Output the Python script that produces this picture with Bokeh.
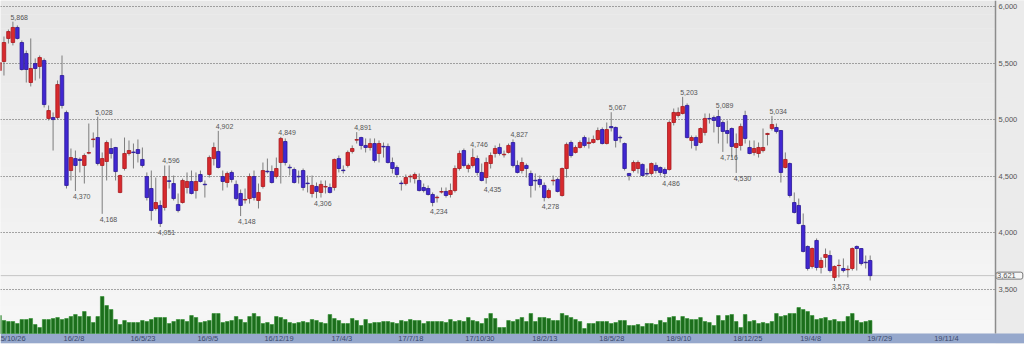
from bokeh.plotting import figure
from bokeh.models import Range1d, FixedTicker, Label, BoxAnnotation, ColumnDataSource
from bokeh.core.properties import value
from bokeh.embed import file_html
from bokeh.resources import INLINE

# Weekly bars, first week 2015/10/26; a date tick every 15 weeks
week_ticks = ["15/10/26", "16/2/8", "16/5/23", "16/9/5", "16/12/19", "17/4/3", "17/7/18",
              "17/10/30", "18/2/13", "18/5/28", "18/9/10", "18/12/25", "19/4/8", "19/7/29",
              "19/11/4"]
TICK_STEP = 15

opens = [5436, 5516, 5720, 5684, 5817, 5684, 5587, 5330, 5498, 5472, 5525, 5012, 5020, 5020, 5392,
         5065, 4551, 4657, 4650, 4596, 4705, 4825, 4843, 4596, 4631, 4746, 4755, 4357, 4569, 4702,
         4715, 4737, 4649, 4498, 4392, 4215, 4242, 4224, 4460, 4436, 4250, 4268, 4401, 4454, 4374,
         4516, 4430, 4516, 4657, 4720, 4498, 4445, 4534, 4428, 4348, 4290, 4303, 4498, 4286, 4410,
         4545, 4542, 4498, 4622, 4808, 4580, 4560, 4500, 4551, 4440, 4348, 4410, 4357, 4405, 4401,
         4401, 4657, 4555, 4596, 4720, 4820, 4843, 4773, 4755, 4790, 4702, 4765, 4764, 4622, 4578,
         4440, 4436, 4495, 4480, 4463, 4401, 4392, 4339, 4310, 4360, 4366, 4339, 4374, 4569, 4728,
         4569, 4596, 4657, 4534, 4489, 4613, 4702, 4755, 4690, 4711, 4799, 4596, 4551, 4596, 4525,
         4465, 4472, 4419, 4312, 4460, 4472, 4330, 4569, 4799, 4711, 4755, 4843, 4790, 4799, 4826,
         4914, 4790, 4940, 4932, 4845, 4790, 4525, 4551, 4569, 4605, 4525, 4525, 4596, 4578, 4560,
         4560, 4976, 5038, 5056, 5127, 4817, 4843, 4799, 4888, 5012, 5020, 5029, 4976, 4905, 4923,
         4755, 4773, 5038, 4755, 4711, 4702, 4728, 4870, 4923, 4932, 4905, 4578, 4613, 4268, 4242,
         4065, 3879, 3702, 3932, 3693, 3782, 3799, 3605, 3710, 3684, 3673, 3684, 3879, 3861, 3740,
         3755]
highs = [5543, 5737, 5799, 5868, 5835, 5702, 5613, 5720, 5543, 5569, 5543, 5127, 5065, 5348, 5569,
         5082, 4746, 4728, 4666, 4702, 4967, 4888, 5028, 4711, 4817, 4835, 4760, 4515, 4843, 4817,
         4790, 4826, 4755, 4534, 4551, 4489, 4286, 4596, 4596, 4507, 4348, 4480, 4534, 4551, 4534,
         4551, 4463, 4684, 4799, 4902, 4551, 4542, 4551, 4463, 4383, 4392, 4525, 4551, 4436, 4622,
         4657, 4596, 4666, 4849, 4835, 4605, 4578, 4551, 4569, 4507, 4507, 4445, 4463, 4463, 4436,
         4657, 4684, 4596, 4728, 4773, 4891, 4850, 4835, 4835, 4835, 4817, 4799, 4790, 4666, 4596,
         4463, 4516, 4516, 4534, 4525, 4436, 4419, 4357, 4330, 4401, 4401, 4436, 4596, 4728, 4746,
         4613, 4746, 4684, 4613, 4666, 4711, 4773, 4790, 4728, 4790, 4827, 4640, 4666, 4613, 4551,
         4525, 4507, 4445, 4392, 4507, 4489, 4578, 4799, 4817, 4773, 4817, 4861, 4843, 4861, 4932,
         4932, 4976, 5067, 4940, 4861, 4799, 4530, 4640, 4640, 4613, 4569, 4622, 4622, 4587, 4578,
         4994, 5100, 5109, 5203, 5145, 4861, 4861, 4932, 5056, 5056, 5038, 5089, 4994, 4994, 4932,
         4879, 4967, 5080, 4817, 4817, 4799, 4923, 4885, 5034, 4967, 4910, 4711, 4622, 4357, 4303,
         4171, 3888, 3870, 3950, 3782, 3861, 3843, 3711, 3764, 3773, 3711, 3870, 3888, 3865, 3799,
         3799]
lows = [5392, 5392, 5675, 5658, 5711, 5436, 5330, 5295, 5348, 5365, 5109, 4994, 4728, 5002, 5100,
        4392, 4463, 4370, 4534, 4436, 4695, 4755, 4596, 4168, 4463, 4657, 4463, 4350, 4551, 4684,
        4569, 4622, 4578, 4286, 4109, 4197, 4051, 4197, 4392, 4286, 4180, 4259, 4348, 4340, 4303,
        4445, 4312, 4489, 4596, 4569, 4374, 4401, 4445, 4286, 4148, 4259, 4259, 4286, 4215, 4392,
        4525, 4436, 4480, 4436, 4596, 4507, 4436, 4436, 4374, 4357, 4312, 4306, 4312, 4348, 4348,
        4374, 4534, 4525, 4578, 4702, 4790, 4737, 4711, 4728, 4622, 4622, 4666, 4613, 4525, 4489,
        4374, 4419, 4445, 4436, 4366, 4357, 4330, 4234, 4268, 4348, 4312, 4312, 4357, 4551, 4578,
        4534, 4578, 4507, 4455, 4435, 4569, 4666, 4684, 4666, 4702, 4578, 4525, 4525, 4489, 4312,
        4374, 4401, 4278, 4303, 4419, 4357, 4320, 4489, 4666, 4702, 4746, 4755, 4746, 4790, 4817,
        4782, 4782, 4897, 4755, 4799, 4551, 4463, 4534, 4525, 4498, 4498, 4507, 4525, 4507, 4486,
        4551, 4950, 5020, 5047, 4835, 4746, 4728, 4790, 4861, 4967, 4888, 4790, 4716, 4790, 4666,
        4530, 4728, 4790, 4695, 4684, 4666, 4711, 4773, 4905, 4879, 4445, 4569, 4312, 4171, 4075,
        3826, 3666, 3684, 3666, 3640, 3693, 3649, 3573, 3605, 3649, 3605, 3666, 3666, 3711, 3684,
        3578]
closes = [5507, 5684, 5781, 5817, 5720, 5445, 5445, 5454, 5454, 5551, 5135, 5082, 5002, 5312, 5127,
          4419, 4666, 4596, 4640, 4684, 4710, 4830, 4613, 4657, 4799, 4702, 4542, 4507, 4702, 4728,
          4710, 4702, 4596, 4312, 4197, 4268, 4082, 4498, 4455, 4303, 4197, 4463, 4454, 4348, 4454,
          4454, 4425, 4666, 4755, 4578, 4454, 4525, 4472, 4303, 4242, 4295, 4498, 4312, 4357, 4551,
          4540, 4445, 4569, 4835, 4622, 4575, 4445, 4495, 4401, 4435, 4419, 4366, 4428, 4410, 4357,
          4649, 4569, 4550, 4711, 4746, 4825, 4773, 4755, 4790, 4640, 4790, 4760, 4622, 4569, 4516,
          4435, 4489, 4500, 4516, 4374, 4374, 4339, 4268, 4315, 4365, 4330, 4374, 4569, 4702, 4596,
          4596, 4666, 4534, 4463, 4622, 4684, 4746, 4702, 4695, 4773, 4596, 4534, 4622, 4569, 4419,
          4460, 4428, 4312, 4374, 4465, 4366, 4569, 4782, 4684, 4755, 4799, 4773, 4800, 4826, 4905,
          4790, 4914, 4930, 4817, 4840, 4569, 4507, 4622, 4622, 4507, 4520, 4613, 4551, 4534, 4525,
          4976, 5065, 5065, 5118, 4843, 4843, 4773, 4923, 5012, 5008, 4994, 4941, 4897, 4879, 4764,
          4790, 4941, 4835, 4702, 4746, 4755, 4755, 4879, 4958, 4897, 4534, 4649, 4330, 4180, 4082,
          3835, 3684, 3861, 3693, 3755, 3808, 3666, 3702, 3712, 3666, 3677, 3861, 3861, 3728, 3735,
          3621]
# Weekly volume (arbitrary units)
volumes = [180, 130, 120, 120, 100, 140, 140, 150, 90, 60, 140, 140, 150, 160, 140, 150, 170, 190,
           170, 220, 170, 110, 170, 370, 280, 240, 140, 90, 130, 110, 110, 110, 130, 120, 140, 160,
           160, 160, 100, 120, 140, 140, 120, 180, 160, 110, 120, 130, 200, 200, 110, 120, 130, 170,
           140, 110, 170, 200, 170, 100, 110, 90, 170, 160, 140, 110, 100, 110, 120, 110, 140, 130,
           110, 100, 190, 150, 130, 100, 100, 150, 130, 80, 140, 100, 110, 110, 120, 120, 110, 100,
           130, 120, 140, 130, 130, 100, 120, 120, 120, 120, 110, 140, 120, 130, 120, 160, 130, 120,
           100, 150, 200, 150, 60, 60, 130, 120, 140, 160, 120, 200, 120, 160, 160, 150, 130, 130,
           200, 180, 160, 140, 120, 50, 100, 100, 120, 120, 120, 100, 110, 130, 130, 80, 80, 90, 70,
           100, 100, 90, 130, 110, 160, 170, 130, 170, 150, 140, 140, 160, 120, 110, 80, 180, 130,
           180, 190, 120, 60, 190, 120, 130, 100, 110, 100, 120, 200, 170, 180, 200, 200, 260, 240,
           220, 180, 140, 150, 160, 130, 140, 120, 120, 170, 200, 130, 110, 120, 130]

price_ticks = [3500, 4000, 4500, 5000, 5500, 6000]
high_marks = [3, 22, 37, 49, 63, 80, 106, 115, 137, 153, 161, 173]
low_marks = [17, 23, 36, 54, 71, 97, 109, 122, 149, 162, 165, 187]

UP, DOWN = "#d82a2e", "#4127d2"
UP_EDGE, DOWN_EDGE = "#a8181d", "#2a1896"
FONT = value("Liberation Sans")

n = len(opens)
weeks = list(range(n))
rising = [c >= o for o, c in zip(opens, closes)]
candles = ColumnDataSource(dict(
    x=weeks, o=opens, h=highs, l=lows, c=closes, v=volumes,
    top=[max(o, c) for o, c in zip(opens, closes)],
    bottom=[min(o, c) for o, c in zip(opens, closes)],
    fill=[UP if r else DOWN for r in rising],
    edge=[UP_EDGE if r else DOWN_EDGE for r in rising],
))

# pixel geometry: 6,000 sits 6.3px below the top, 113px per 1,000
PX_PER_UNIT = 113.0 / 1000.0
FRAME_H = 343
BAND_TOP = 333
y_top = 6000 + 6.3 / PX_PER_UNIT
y_bottom = y_top - FRAME_H / PX_PER_UNIT
y_band = y_top - BAND_TOP / PX_PER_UNIT
# 4.465px per week, week 0 centred 1px left of the left edge; price pane ends at 995px
X_STEP = 4.465
x_start = 1.0 / X_STEP
x_end = (1024 + 1.0) / X_STEP
x_edge = (995 + 1.0) / X_STEP

p = figure(width=1024, height=348, output_backend="svg", toolbar_location=None,
           x_range=Range1d(x_start, x_end), y_range=Range1d(y_bottom, y_top),
           x_axis_location=None, y_axis_location=None,
           min_border_left=0, min_border_top=0, min_border_bottom=5, min_border_right=0,
           background_fill_color="#f2f2f2", border_fill_color="#ffffff",
           outline_line_color=None)

# volume scale: 10 units per pixel, zero on top of the date band
p.extra_y_ranges = {"vol": Range1d(-100, 3330)}

# soft vertical shading of the pane (kept beneath the grid)
bands = 24
for k in range(bands):
    y0 = k * BAND_TOP / bands
    y1 = (k + 1) * BAND_TOP / bands
    g = int(0xe7 + (0xf7 - 0xe7) * k / (bands - 1))
    p.add_layout(BoxAnnotation(top=y_top - y0 / PX_PER_UNIT, bottom=y_top - y1 / PX_PER_UNIT,
                               fill_color=f"#{g:02x}{g:02x}{g:02x}", fill_alpha=1,
                               line_color=None, level="image"))

p.xgrid.visible = False
p.ygrid.ticker = FixedTicker(ticks=price_ticks)
p.ygrid.grid_line_color = "#555555"
p.ygrid.grid_line_dash = "1 2"
p.ygrid.grid_line_width = 1
p.ygrid.level = "underlay"

# price-scale column on the right, then the date band across the bottom
p.add_layout(BoxAnnotation(left=x_edge, fill_color="#ebebeb", fill_alpha=1,
                           line_color=None, level="underlay"))
p.add_layout(BoxAnnotation(top=0, y_range_name="vol", fill_color="#96a8cc", fill_alpha=1,
                           line_color=None, level="underlay"))

# scale line
p.segment(x0=[x_edge], y0=[y_band], x1=[x_edge], y1=[y_top], line_color="#8c8c8c",
          line_width=1.5)
# price labels
p.text(x=[x_edge] * len(price_ticks), y=price_ticks, text=[f"{t:,}" for t in price_ticks],
       x_offset=3, text_align="left", text_baseline="middle", text_font=FONT,
       text_font_size="7.5px", text_color="#555555")

# last close marker line
p.segment(x0=[x_start], y0=[closes[-1]], x1=[x_edge], y1=[closes[-1]], line_color="#c4c4c4",
          line_width=1)

# volume
p.vbar(x="x", top="v", bottom=0, width=0.8, source=candles, y_range_name="vol",
       fill_color="#1c6e1c", line_color="#2f8f2f", line_width=0.6)

# candles
p.segment(x0="x", y0="h", x1="x", y1="l", source=candles, line_color="#7d7d7d", line_width=1)
p.vbar(x="x", top="top", bottom="bottom", width=0.78, source=candles,
       fill_color="fill", line_color="edge", line_width=0.8)

# high / low call-outs
p.text(x=high_marks, y=[highs[i] for i in high_marks],
       text=[f"{highs[i]:,}" for i in high_marks], x_offset=-2.5, y_offset=-2,
       text_align="left", text_baseline="bottom", text_font=FONT, text_font_size="7px",
       text_color="#555555")
p.text(x=low_marks, y=[lows[i] for i in low_marks],
       text=[f"{lows[i]:,}" for i in low_marks], x_offset=-2.5, y_offset=3,
       text_align="left", text_baseline="top", text_font=FONT, text_font_size="7px",
       text_color="#555555")

# date labels inside the band
p.text(x=[k * TICK_STEP for k in range(len(week_ticks))], y=[-50] * len(week_ticks),
       text=week_ticks, y_range_name="vol", x_offset=-3, text_align="left",
       text_baseline="middle", text_font=FONT, text_font_size="7.5px", text_color="#3c4a6c")

# last close tag on the price scale
p.add_layout(Label(x=x_edge, y=closes[-1], x_offset=0.5, text=f"{closes[-1]:,}",
                   text_align="left", text_baseline="middle", text_font="Liberation Sans",
                   text_font_size="7.5px", text_color="#555555", border_line_color="#7a7a7a",
                   border_line_width=1, background_fill_color="#f6f6f6",
                   padding=dict(left=1, right=7, top=1, bottom=1), border_radius=2))

open("out.html", "w").write(file_html(p, INLINE))
